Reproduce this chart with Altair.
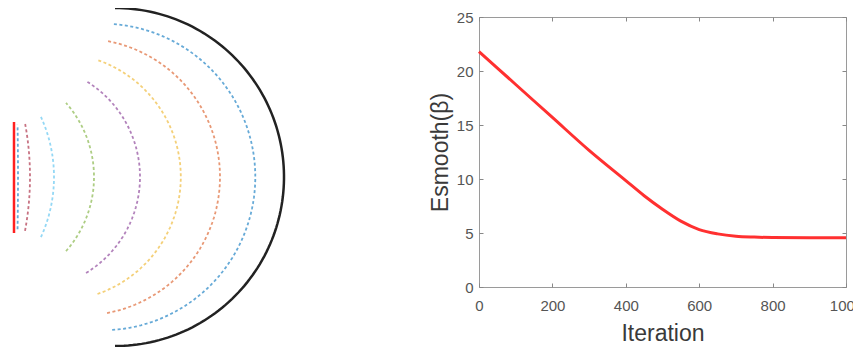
import altair as alt
import numpy as np
import pandas as pd

# ---------------- Left panel: curve evolution (page-pixel coordinates)
CENTER_Y = 177
arc_ids = ["c1", "c2", "c3", "c4", "c5", "c6", "c7", "c8"]
arc_cx = [102.0, 81.6, 57.0, 27.7, -18.0, -90.8, -263.0, -2982.0]
arc_r = [153.3, 138.4, 123.8, 112.3, 112.0, 144.8, 293.0, 3000.0]
arc_half_deg = [86.2, 79.4, 70.9, 58.7, 41.4, 24.5, 10.6, 1.0]
arc_colors = ["#0072BD", "#D95319", "#EDB120", "#7E2F8E", "#77AC30", "#4DBEEE", "#A2142F", "#0072BD"]

outer_cx = [115.0]
outer_r = [169.0]
outer_half_deg = [90.0]

start_x = [14, 14]
start_y = [122, 233]

# ---------------- Right panel: energy vs iteration
iterations = [0, 100, 200, 300, 400, 450, 500, 550, 600, 650, 700, 750, 800, 900, 1000]
esmooth = [21.8, 18.75, 15.7, 12.65, 9.85, 8.45, 7.2, 6.1, 5.32, 4.92, 4.70, 4.62, 4.58, 4.56, 4.55]
x_ticks = [0, 200, 400, 600, 800, 1000]
y_ticks = [0, 5, 10, 15, 20, 25]


def arc_rows(name, cx, r, half, n=80):
    rows = []
    for i, a in enumerate(np.linspace(-half, half, n)):
        t = np.deg2rad(a)
        rows.append({"id": name, "o": i, "x": cx + r * np.cos(t), "y": CENTER_Y - r * np.sin(t)})
    return rows


arc_data = []
for k in range(len(arc_ids)):
    arc_data += arc_rows(arc_ids[k], arc_cx[k], arc_r[k], arc_half_deg[k])
arc_df = pd.DataFrame(arc_data)
outer_df = pd.DataFrame(arc_rows("outer", outer_cx[0], outer_r[0], outer_half_deg[0], 120))
start_df = pd.DataFrame({"id": ["s", "s"], "o": [0, 1], "x": start_x, "y": start_y})

WL = 400
LX0 = 8
xs = alt.Scale(domain=[LX0, LX0 + WL], nice=False, zero=False)
ys = alt.Scale(domain=[17, 287], nice=False, zero=False, reverse=True)

outer = alt.Chart(outer_df).mark_line(color="#222222", strokeWidth=2.5).encode(
    x=alt.X("x:Q", scale=xs, axis=None),
    y=alt.Y("y:Q", scale=ys, axis=None),
    order="o:Q",
)
dashed = alt.Chart(arc_df).mark_line(strokeWidth=1.8, strokeDash=[3, 2.5], opacity=0.6).encode(
    x=alt.X("x:Q", scale=xs, axis=None),
    y=alt.Y("y:Q", scale=ys, axis=None),
    order="o:Q",
    detail="id:N",
    color=alt.Color("id:N", scale=alt.Scale(domain=arc_ids, range=arc_colors), legend=None),
)
start = alt.Chart(start_df).mark_line(color="#ff2020", strokeWidth=2.5).encode(
    x=alt.X("x:Q", scale=xs, axis=None),
    y=alt.Y("y:Q", scale=ys, axis=None),
    order="o:Q",
)
left = alt.layer(outer, dashed, start).properties(
    width=WL, height=270, view=alt.ViewBackground(stroke=None)
)

line_df = pd.DataFrame({"iter": iterations, "E": esmooth})
rxs = alt.Scale(domain=[0, 1000], nice=False)
rys = alt.Scale(domain=[0, 25], nice=False)
common = dict(tickSize=4, offset=-4, domain=False, tickColor="#888888", tickWidth=1, grid=False,
              labelFlush=False)

main = alt.Chart(line_df).mark_line(color="#ff3030", strokeWidth=3, interpolate="monotone").encode(
    x=alt.X("iter:Q", scale=rxs, axis=alt.Axis(values=x_ticks, format="d", title="Iteration", labelPadding=11,
                                               titlePadding=9, **common)),
    y=alt.Y("E:Q", scale=rys, axis=alt.Axis(values=y_ticks, format="d", title="Esmooth(β)", labelPadding=6,
                                            titlePadding=4, **common)),
)
ghost = alt.Chart(line_df).mark_line(opacity=0).encode(
    x=alt.X("iter:Q", scale=rxs, axis=alt.Axis(orient="top", values=x_ticks, labels=False, title=None, **common)),
    y=alt.Y("E:Q", scale=rys, axis=alt.Axis(orient="right", values=y_ticks, labels=False, title=None, **common)),
)
right = alt.layer(main, ghost).resolve_axis(x="independent", y="independent").properties(
    width=367, height=270, view=alt.ViewBackground(stroke="#9a9a9a", strokeWidth=1)
)

chart = alt.hconcat(left, right, spacing=20).properties(
    padding={"left": 0, "top": -5, "right": -11, "bottom": 0}
).configure_view(stroke=None).configure_axis(
    labelFont="Liberation Sans", titleFont="Liberation Sans",
    labelFontSize=15, titleFontSize=23, labelColor="#555555", titleColor="#3a3a3a",
    titleFontWeight="normal",
)

chart.save("out.html", embed_options={"renderer": "svg", "actions": False})
